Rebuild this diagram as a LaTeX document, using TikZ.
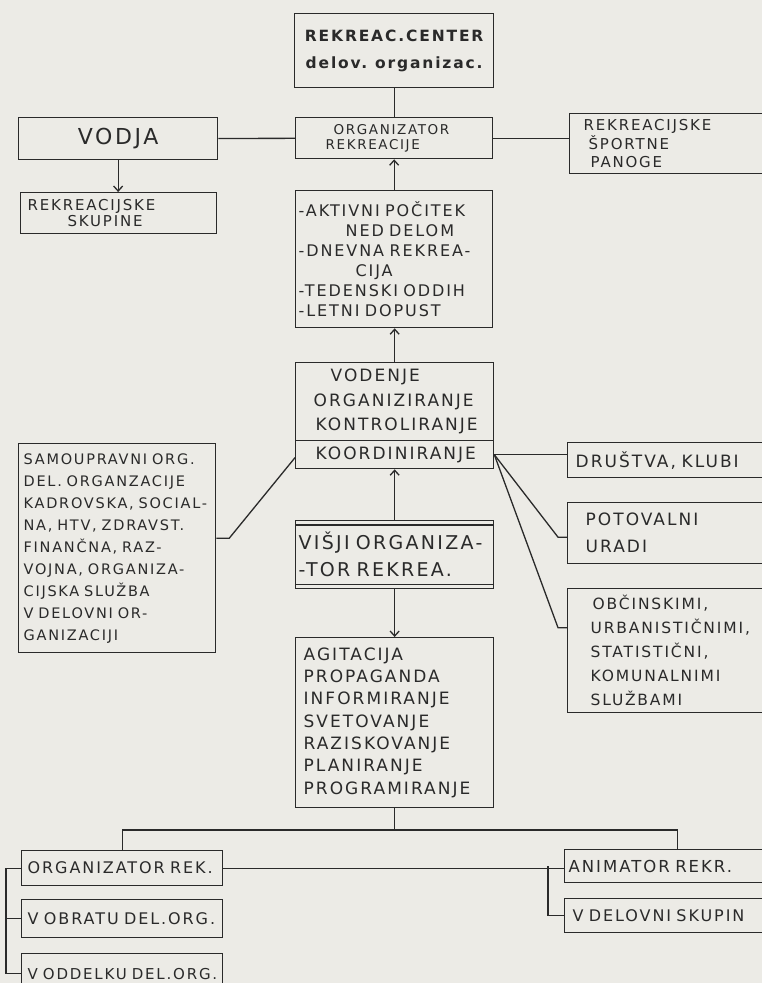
\documentclass[tikz,border=0pt]{standalone}
\usepackage{fontspec}
\setmainfont{DejaVu Sans}[LetterSpace=12]
\usepackage{tikz}
\usetikzlibrary{arrows.meta}
\definecolor{paper}{HTML}{ECEBE6}
\definecolor{ink}{HTML}{2A2A2A}

\begin{document}
\begin{tikzpicture}[x=1pt, y=-1pt,
  box/.style={draw=ink, line width=1.3pt, anchor=north west, inner sep=0pt, align=left, text=ink},
  link/.style={draw=ink, line width=1.3pt},
  tip/.style={link, -{Straight Barb[length=5pt, width=9pt]}}]
							% Define the length of the side stubs
							\newcommand\StubLen{15}

							% Paper
							\fill[paper] (0,0) rectangle (762,983);
							\useasboundingbox (0,0) rectangle (762,983);

							% Draw the upper boxes
							\node[box, text width=199pt, minimum height=74pt, align=center, font=\bfseries\fontsize{15.5}{27}\selectfont] (centre) at (294,13) {REKREAC.CENTER\\delov. organizac.};
							\node[box, text width=197pt, minimum height=41pt, font=\fontsize{13.5}{15.5}\selectfont] (org) at (295,117) {\hspace*{38pt}ORGANIZATOR\\\hspace*{30pt}REKREACIJE};
							\node[box, text width=199pt, minimum height=42pt, align=center, font=\fontsize{22}{26}\selectfont] (vodja) at (18,117) {VODJA};
							\node[box, text width=196pt, minimum height=41pt, font=\fontsize{15}{16}\selectfont] (skupine) at (20,192) {\hspace*{7pt}REKREACIJSKE\\\hspace*{47pt}SKUPINE};
							\node[box, text width=221pt, minimum height=60pt, font=\fontsize{15}{18.5}\selectfont] (panoge) at (569,113) {\hspace*{14pt}REKREACIJSKE\\\hspace*{19pt}ŠPORTNE\\\hspace*{21pt}PANOGE};
							\node[box, text width=197pt, minimum height=137pt, font=\fontsize{16}{20}\selectfont] (aktiv) at (295,190) {\hspace*{3pt}-AKTIVNI POČITEK\\\hspace*{50pt}NED DELOM\\\hspace*{3pt}-DNEVNA REKREA-\\\hspace*{60pt}CIJA\\\hspace*{3pt}-TEDENSKI ODDIH\\\hspace*{3pt}-LETNI DOPUST};

							% Draw the middle boxes
							\node[box, text width=198pt, minimum height=78pt, font=\fontsize{17}{24.5}\selectfont] (vodenje) at (295,362) {\hspace*{35pt}VODENJE\\\hspace*{18pt}ORGANIZIRANJE\\\hspace*{20pt}KONTROLIRANJE};
							\node[box, text width=198pt, minimum height=28pt, font=\fontsize{17}{20}\selectfont] (koord) at (295,440) {\hspace*{20pt}KOORDINIRANJE};
							\node[box, text width=198pt, minimum height=68pt, font=\fontsize{19}{27}\selectfont] (visji) at (295,520) {\hspace*{3pt}VIŠJI ORGANIZA-\\\hspace*{3pt}-TOR REKREA.};
							\node[box, text width=198pt, minimum height=170pt, font=\fontsize{17}{22.3}\selectfont] (agit) at (295,637) {\hspace*{8pt}AGITACIJA\\\hspace*{8pt}PROPAGANDA\\\hspace*{8pt}INFORMIRANJE\\\hspace*{8pt}SVETOVANJE\\\hspace*{8pt}RAZISKOVANJE\\\hspace*{8pt}PLANIRANJE\\\hspace*{8pt}PROGRAMIRANJE};
							\node[box, text width=197pt, minimum height=209pt, font=\fontsize{14.5}{22}\selectfont] (samo) at (18,443) {\hspace*{5pt}SAMOUPRAVNI ORG.\\\hspace*{5pt}DEL. ORGANZACIJE\\\hspace*{5pt}KADROVSKA, SOCIAL-\\\hspace*{5pt}NA, HTV, ZDRAVST.\\\hspace*{5pt}FINANČNA, RAZ-\\\hspace*{5pt}VOJNA, ORGANIZA-\\\hspace*{5pt}CIJSKA SLUŽBA\\\hspace*{5pt}V DELOVNI OR-\\\hspace*{5pt}GANIZACIJI};

							% Draw the boxes on the right
							\node[box, text width=223pt, minimum height=35pt, font=\fontsize{17}{20}\selectfont] (drustva) at (567,442) {\hspace*{8pt}DRUŠTVA, KLUBI};
							\node[box, text width=223pt, minimum height=61pt, font=\fontsize{17}{27}\selectfont] (potovalni) at (567,502) {\hspace*{18pt}POTOVALNI\\\hspace*{18pt}URADI};
							\node[box, text width=223pt, minimum height=124pt, font=\fontsize{15.5}{24}\selectfont] (obcinski) at (567,588) {\hspace*{25pt}OBČINSKIMI,\\\hspace*{23pt}URBANISTIČNIMI,\\\hspace*{23pt}STATISTIČNI,\\\hspace*{23pt}KOMUNALNIMI\\\hspace*{23pt}SLUŽBAMI};

							% Draw the lower boxes
							\node[box, text width=201pt, minimum height=35pt, font=\fontsize{16}{20}\selectfont] (orgrek) at (21,850) {\hspace*{6pt}ORGANIZATOR REK.};
							\node[box, text width=201pt, minimum height=38pt, font=\fontsize{16}{20}\selectfont] (obratu) at (21,899) {\hspace*{6pt}V OBRATU DEL.ORG.};
							\node[box, text width=201pt, minimum height=40pt, font=\fontsize{15}{20}\selectfont] (oddelku) at (21,953) {\hspace*{6pt}\mbox{V ODDELKU DEL.ORG.}};
							\node[box, text width=226pt, minimum height=33pt, font=\fontsize{16.5}{20}\selectfont] (animator) at (564,849) {\hspace*{4pt}ANIMATOR REKR.};
							\node[box, text width=226pt, minimum height=34pt, font=\fontsize{16}{20}\selectfont] (skupin) at (564,898) {\hspace*{8pt}V DELOVNI SKUPIN};

							% Double lines of the VISJI box
							\draw[link] ([yshift=-5pt]visji.north west) -- ([yshift=-5pt]visji.north east);
							\draw[link] ([yshift=5pt]visji.south west) -- ([yshift=5pt]visji.south east);

							% Connect the upper boxes
							\draw[link] (centre) -- (org);
							\draw[link] (vodja) -- (org);
							\draw[link] (org.east) -- (org.east -| panoge.west);
							\draw[tip] (vodja.south) -- (vodja.south |- skupine.north);
							\draw[tip] (aktiv) -- (org);
							\draw[tip] (vodenje.north) -- (vodenje.north |- aktiv.south);
							\draw[tip] (visji) -- (koord);
							\draw[tip] (visji) -- (agit);

							% Connect the side boxes
							\draw[link] ([yshift=10pt]samo.east) -- ++(13,0) -- ([yshift=-3pt]koord.west);
							\draw[link] (koord.east) -- (koord.east -| drustva.west);
							\draw[link] (koord.east) -- ([xshift=-9pt, yshift=-4pt]potovalni.west) -- ([yshift=-4pt]potovalni.west);
							\draw[link] (koord.east) -- ([xshift=-9pt, yshift=23pt]obcinski.west) -- ([yshift=23pt]obcinski.west);

							% Connect the lower boxes
							\coordinate (bus) at (394,830);
							\draw[link] (agit.south) -- (agit.south |- bus);
							\draw[link] (orgrek.north) |- (bus) -| (animator.north);
							\draw[link] (orgrek.east) -- (orgrek.east -| animator.west);
							\draw[link] (orgrek.west) -- ++(-\StubLen,0) |- (oddelku.west);
							\draw[link] (obratu.west) -- ++(-\StubLen,0);
							\draw[link] ([xshift=-16pt]animator.west) |- (skupin.west);
						\end{tikzpicture}
\end{document}
